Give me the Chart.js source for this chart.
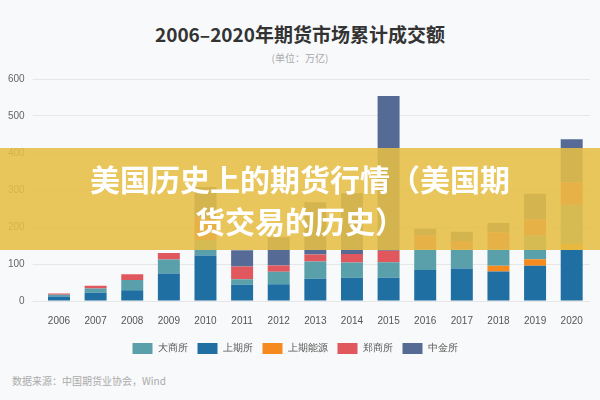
<!DOCTYPE html>
<html>
<head>
<meta charset="utf-8">
<script src="https://cdn.jsdelivr.net/npm/chart.js@4"></script>
<style>
  body { margin: 0; background: #f8f9fa; font-family: "Noto Sans CJK SC", sans-serif; }
  #wrap { position: relative; width: 600px; height: 400px; }
  #title { position: absolute; top: 20px; width: 600px; text-align: center; font-size: 19px; font-weight: bold; color: #333; }
  #unit { position: absolute; top: 50px; width: 600px; text-align: center; font-size: 10px; color: #aaa; }
  #src { position: absolute; top: 373px; left: 12px; font-size: 10px; color: #aaa; }
  #banner { position: absolute; top: 148px; left: 0; width: 600px; height: 102px; background: rgba(230,190,70,0.88);
            color: #fff; font-size: 30px; font-weight: bold; text-align: center; line-height: 42px; padding-top: 9px; box-sizing: border-box; white-space: nowrap; }
  canvas { position: absolute; top: 62px; left: 0; }
</style>
</head>
<body>
<div id="wrap">
  <div id="title">2006–2020年期货市场累计成交额</div>
  <div id="unit">(单位：万亿)</div>
  <canvas id="c" width="600" height="302"></canvas>
  <div id="src">数据来源：中国期货业协会，Wind</div>
  <div id="banner">美国历史上的期货行情（美国期<br>货交易的历史）</div>
</div>
<script>
const years = ['2006','2007','2008','2009','2010','2011','2012','2013','2014','2015','2016','2017','2018','2019','2020'];
const shfe = [12, 22, 29, 74, 123, 44, 45, 60, 63, 63, 84, 88, 80, 95, 138];
const ine  = [0, 0, 0, 0, 0, 0, 0, 0, 0, 0, 0, 0, 15, 18, 17];
const dce  = [5, 12, 28, 38, 42, 15, 34, 47, 41, 42, 56, 52, 45, 65, 105];
const zce  = [3, 7, 15, 18, 61, 34, 17, 19, 23, 31, 37, 22, 45, 42, 60];
const cffex = [0, 0, 0, 0, 82, 44, 76, 141, 164, 418, 18, 25, 26, 70, 117];
const legendOrder = ['大商所', '上期所', '上期能源', '郑商所', '中金所'];

new Chart(document.getElementById('c'), {
  type: 'bar',
  data: {
    labels: years,
    datasets: [
      { label: '上期所', data: shfe, backgroundColor: '#1f6fa3' },
      { label: '上期能源', data: ine, backgroundColor: '#f58a1f' },
      { label: '大商所', data: dce, backgroundColor: '#5aa0ab' },
      { label: '郑商所', data: zce, backgroundColor: '#e0585e' },
      { label: '中金所', data: cffex, backgroundColor: '#556a94' }
    ]
  },
  options: {
    responsive: false,
    animation: false,
    layout: { padding: { left: 0, right: 10, top: 17 } },
    datasets: { bar: { barPercentage: 0.6, categoryPercentage: 1 } },
    scales: {
      x: { stacked: true, grid: { display: false }, border: { display: false },
           ticks: { color: '#555', font: { size: 10 }, padding: 6 } },
      y: { stacked: true, min: 0, max: 600, border: { display: false },
           ticks: { stepSize: 100, color: '#666', font: { size: 10 }, padding: 8 },
           grid: { color: '#e6e6e6' } }
    },
    plugins: {
      legend: {
        position: 'bottom',
        labels: {
          boxWidth: 20, boxHeight: 11, font: { size: 10 }, color: '#555', padding: 10,
          sort: (a, b) => legendOrder.indexOf(a.text) - legendOrder.indexOf(b.text)
        }
      },
      tooltip: { enabled: false }
    }
  }
});
</script>
</body>
</html>
